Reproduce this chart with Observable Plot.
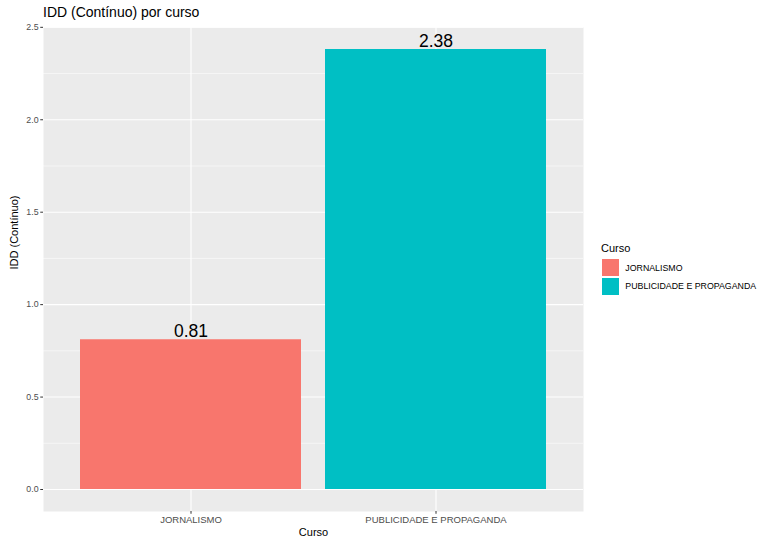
<!DOCTYPE html>
<html>
<head>
<meta charset="utf-8">
<script src="https://cdn.jsdelivr.net/npm/d3@7"></script>
<script src="https://cdn.jsdelivr.net/npm/@observablehq/plot@0.6"></script>
<style>
  html, body { margin: 0; padding: 0; background: #fff; }
  #wrap { position: relative; width: 771px; height: 539px; font-family: "Liberation Sans", Arial, sans-serif; }
  #wrap svg { position: absolute; left: 0; top: 0; }
  #title { position: absolute; left: 43px; top: 4px; font-size: 14px; color: #000; white-space: nowrap; }
  #legend { position: absolute; left: 601px; top: 242px; }
  #legend .lt { font-size: 11px; color: #000; margin-bottom: 5px; }
  #legend .row { display: flex; align-items: center; height: 17.3px; margin-bottom: 1.4px; }
  #legend .sw { width: 17.3px; height: 17.3px; margin-left: 1px; }
  #legend .lab { font-size: 8.8px; color: #000; margin-left: 6px; white-space: nowrap; }
</style>
</head>
<body>
<div id="wrap">
  <div id="title">IDD (Contínuo) por curso</div>
  <div id="legend"></div>
</div>
<script>
const cursos = ["JORNALISMO", "PUBLICIDADE E PROPAGANDA"];
const idd = [0.81, 2.38];
const cores = ["#F8766D", "#00BFC4"];
const yMajor = [0, 0.5, 1.0, 1.5, 2.0, 2.5];
const yMinor = [0.25, 0.75, 1.25, 1.75, 2.25];
const yLabel = "IDD (Contínuo)";
const xLabel = "Curso";
const legendTitle = "Curso";

const data = cursos.map((c, i) => ({curso: c, idd: idd[i]}));
const ymax = d3.max(idd);
const pad = ymax * 0.05;

const W = 771, H = 539;
const mL = 43, mR = 188, mT = 27, mB = 28;

const plot = Plot.plot({
  width: W,
  height: H,
  marginLeft: mL,
  marginRight: mR,
  marginTop: mT,
  marginBottom: mB,
  style: {fontFamily: "Liberation Sans, Arial, sans-serif", background: "transparent"},
  x: {domain: cursos, paddingInner: 0.1, paddingOuter: 0.15, align: 0.5},
  y: {domain: [-pad, ymax + pad]},
  color: {domain: cursos, range: cores},
  marks: [
    Plot.frame({fill: "#EBEBEB", stroke: null}),
    Plot.gridY(yMinor, {stroke: "#fff", strokeOpacity: 1, strokeWidth: 0.55}),
    Plot.gridY(yMajor, {stroke: "#fff", strokeOpacity: 1, strokeWidth: 1.1}),
    Plot.gridX(cursos, {stroke: "#fff", strokeOpacity: 1, strokeWidth: 1.1}),
    Plot.barY(data, {x: "curso", y: "idd", fill: "curso"}),
    Plot.text(data, {x: "curso", y: "idd", text: d => d.idd.toFixed(2), lineAnchor: "bottom", dy: -3, fontSize: 17.5, fill: "#000"}),
    Plot.axisY(yMajor, {tickFormat: d => d.toFixed(1), tickSize: 2.75, tickPadding: 2.2, fontSize: 8.8, color: "#4D4D4D", stroke: "#333", label: null}),
    Plot.axisX(cursos, {tickSize: 2.75, tickPadding: 2.2, fontSize: 9.5, color: "#4D4D4D", stroke: "#333", label: null}),
    Plot.text([yLabel], {frameAnchor: "left", dx: -29, rotate: -90, fontSize: 11, fill: "#000"}),
    Plot.text([xLabel], {frameAnchor: "bottom", dy: 24, fontSize: 11, fill: "#000"})
  ]
});
document.getElementById("wrap").prepend(plot);

const leg = document.getElementById("legend");
const lt = document.createElement("div");
lt.className = "lt";
lt.textContent = legendTitle;
leg.appendChild(lt);
cursos.forEach((c, i) => {
  const row = document.createElement("div");
  row.className = "row";
  const sw = document.createElement("div");
  sw.className = "sw";
  sw.style.background = cores[i];
  const lab = document.createElement("div");
  lab.className = "lab";
  lab.textContent = c;
  row.appendChild(sw);
  row.appendChild(lab);
  leg.appendChild(row);
});
</script>
</body>
</html>
